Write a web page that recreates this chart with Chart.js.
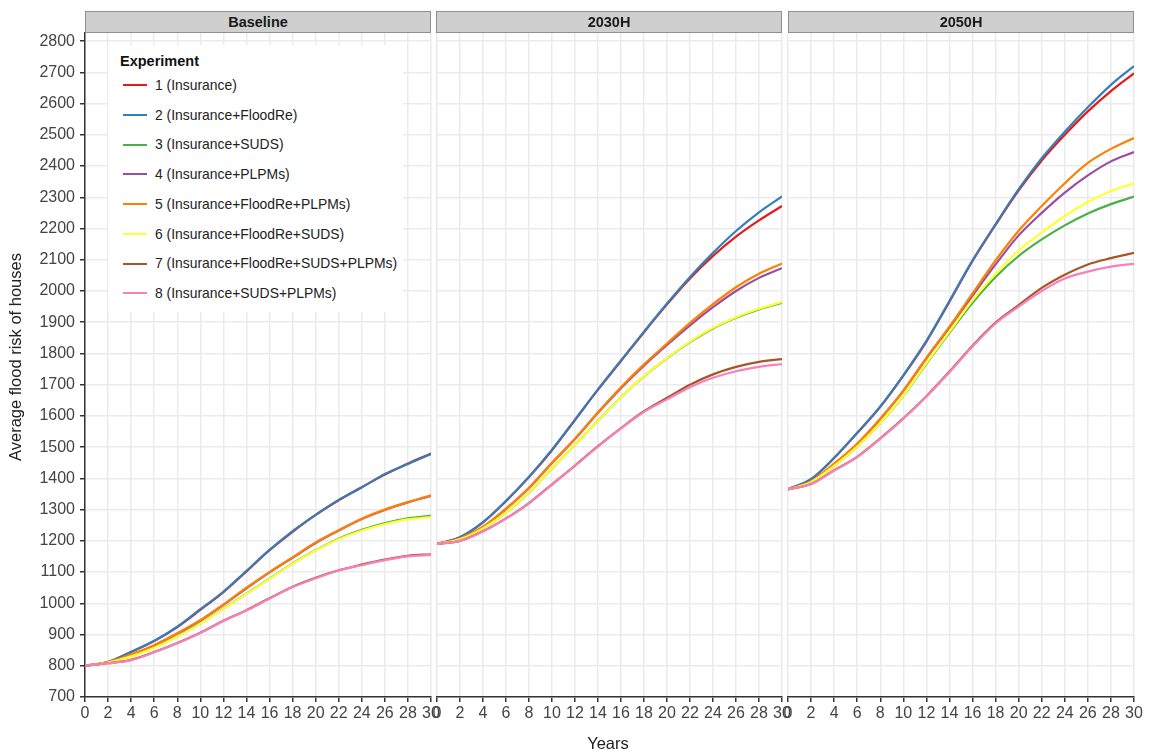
<!DOCTYPE html>
<html>
<head>
<meta charset="utf-8">
<script src="https://cdn.jsdelivr.net/npm/chart.js@4.4.0/dist/chart.umd.min.js"></script>
<style>
  html, body { margin: 0; padding: 0; background: #fff; }
  #wrap { position: relative; width: 1149px; height: 754px; overflow: hidden; background: #fff; font-family: "Liberation Sans", Arial, sans-serif; }
  canvas { position: absolute; top: 0; }
  .strip { position: absolute; top: 11px; height: 22px; background: #cfcfcf; border: 1px solid #8f8f8f; box-sizing: border-box;
           text-align: center; line-height: 20px; font-weight: bold; font-size: 14.5px; color: #1a1a1a; }
  #legend { position: absolute; left: 108px; top: 45px; width: 295px; height: 267px; background: #fff; }
  #legend .title { position: absolute; left: 12px; top: 8px; font-weight: bold; font-size: 14.5px; color: #111; }
  #legend .item { position: absolute; left: 15px; height: 20px; font-size: 13.9px; color: #222; line-height: 20px; white-space: nowrap; }
  #legend .sw { display: inline-block; width: 24px; height: 2px; vertical-align: middle; margin-right: 8px; position: relative; top: -1px; }
  #ytitle { position: absolute; left: -135px; top: 347px; width: 300px; height: 20px; line-height: 20px; text-align: center;
            transform: rotate(-90deg); font-size: 16.5px; color: #222; }
  #xtitle { position: absolute; left: 508px; top: 733px; width: 200px; height: 20px; line-height: 20px; text-align: center; font-size: 16.5px; color: #222; }
</style>
</head>
<body>
<div id="wrap">
  <canvas id="p1" width="443" height="754" style="left:0px"></canvas>
  <canvas id="p2" width="369" height="754" style="left:425px"></canvas>
  <canvas id="p3" width="370" height="754" style="left:776px"></canvas>
  <div class="strip" style="left:85px;width:346px">Baseline</div>
  <div class="strip" style="left:436px;width:346px">2030H</div>
  <div class="strip" style="left:788px;width:346px">2050H</div>
  <div id="legend"></div>
  <div id="ytitle">Average flood risk of houses</div>
  <div id="xtitle">Years</div>
</div>
<script>
// ---- data ----
const years = [0, 2, 4, 6, 8, 10, 12, 14, 16, 18, 20, 22, 24, 26, 28, 30];
const yTicks = [700, 800, 900, 1000, 1100, 1200, 1300, 1400, 1500, 1600, 1700, 1800, 1900, 2000, 2100, 2200, 2300, 2400, 2500, 2600, 2700, 2800];
const panelNames = ["Baseline", "2030H", "2050H"];
const experiments = ["1 (Insurance)", "2 (Insurance+FloodRe)", "3 (Insurance+SUDS)", "4 (Insurance+PLPMs)",
  "5 (Insurance+FloodRe+PLPMs)", "6 (Insurance+FloodRe+SUDS)", "7 (Insurance+FloodRe+SUDS+PLPMs)", "8 (Insurance+SUDS+PLPMs)"];
const colors = ["#E41A1C", "#377EB8", "#4DAF4A", "#984EA3", "#FF7F00", "#FFFF33", "#A65628", "#F781BF"];

// Baseline
const base1 = [800, 812, 844, 879, 924, 979, 1036, 1102, 1170, 1229, 1283, 1330, 1372, 1412, 1448, 1480];
const base2 = [800, 813, 845, 880, 925, 981, 1037, 1104, 1171, 1231, 1283, 1331, 1371, 1414, 1446, 1478];
const base3 = [800, 810, 831, 859, 894, 936, 983, 1031, 1079, 1128, 1170, 1207, 1235, 1257, 1272, 1280];
const base4 = [800, 811, 835, 865, 903, 945, 995, 1048, 1099, 1146, 1193, 1233, 1270, 1299, 1323, 1344];
const base5 = [800, 812, 836, 866, 904, 946, 996, 1050, 1100, 1147, 1195, 1234, 1271, 1300, 1324, 1346];
const base6 = [800, 810, 830, 858, 893, 935, 982, 1030, 1078, 1127, 1169, 1205, 1233, 1254, 1269, 1276];
const base7 = [800, 808, 819, 844, 873, 906, 944, 978, 1016, 1053, 1082, 1106, 1124, 1140, 1152, 1157];
const base8 = [800, 808, 818, 843, 872, 905, 943, 977, 1015, 1052, 1080, 1105, 1122, 1138, 1150, 1155];

// 2030H
const h30_1 = [1190, 1211, 1259, 1327, 1404, 1490, 1587, 1684, 1776, 1868, 1957, 2040, 2112, 2174, 2226, 2272];
const h30_2 = [1190, 1212, 1260, 1328, 1405, 1492, 1588, 1685, 1778, 1870, 1960, 2045, 2122, 2192, 2252, 2303];
const h30_3 = [1190, 1205, 1240, 1290, 1355, 1432, 1508, 1585, 1660, 1727, 1784, 1836, 1880, 1914, 1941, 1962];
const h30_4 = [1190, 1206, 1244, 1302, 1369, 1449, 1526, 1610, 1689, 1761, 1827, 1890, 1948, 2000, 2042, 2073];
const h30_5 = [1190, 1207, 1245, 1303, 1370, 1450, 1527, 1612, 1692, 1765, 1832, 1898, 1958, 2012, 2055, 2088];
const h30_6 = [1190, 1205, 1240, 1290, 1355, 1432, 1508, 1585, 1660, 1728, 1785, 1838, 1882, 1916, 1943, 1965];
const h30_7 = [1190, 1200, 1231, 1272, 1321, 1381, 1441, 1503, 1561, 1615, 1658, 1700, 1733, 1757, 1773, 1782];
const h30_8 = [1190, 1200, 1230, 1271, 1320, 1380, 1440, 1502, 1560, 1613, 1653, 1692, 1722, 1743, 1757, 1766];

// 2050H
const h50_1 = [1365, 1397, 1465, 1545, 1629, 1729, 1838, 1966, 2096, 2212, 2322, 2418, 2500, 2575, 2640, 2697];
const h50_2 = [1365, 1398, 1466, 1546, 1630, 1730, 1840, 1968, 2098, 2214, 2326, 2425, 2510, 2588, 2660, 2720];
const h50_3 = [1365, 1388, 1440, 1502, 1577, 1664, 1767, 1866, 1962, 2045, 2112, 2165, 2210, 2248, 2278, 2302];
const h50_4 = [1365, 1390, 1446, 1510, 1590, 1680, 1784, 1883, 1985, 2085, 2178, 2250, 2315, 2370, 2415, 2445];
const h50_5 = [1365, 1391, 1447, 1511, 1591, 1681, 1786, 1886, 1992, 2098, 2193, 2272, 2345, 2410, 2455, 2490];
const h50_6 = [1365, 1388, 1440, 1502, 1577, 1665, 1769, 1870, 1970, 2055, 2130, 2187, 2240, 2285, 2320, 2345];
const h50_7 = [1365, 1382, 1426, 1469, 1528, 1592, 1663, 1742, 1825, 1899, 1955, 2010, 2052, 2085, 2105, 2122];
const h50_8 = [1365, 1382, 1425, 1468, 1527, 1591, 1662, 1740, 1822, 1896, 1950, 2000, 2040, 2062, 2078, 2087];

const panelSeries = [
  [base1, base2, base3, base4, base5, base6, base7, base8],
  [h30_1, h30_2, h30_3, h30_4, h30_5, h30_6, h30_7, h30_8],
  [h50_1, h50_2, h50_3, h50_4, h50_5, h50_6, h50_7, h50_8]
];

// ---- legend (HTML) ----
const leg = document.getElementById('legend');
const t = document.createElement('div'); t.className = 'title'; t.textContent = 'Experiment'; leg.appendChild(t);
experiments.forEach((name, i) => {
  const it = document.createElement('div');
  it.className = 'item';
  it.style.top = (30 + i * 29.7) + 'px';
  const sw = document.createElement('span'); sw.className = 'sw'; sw.style.background = colors[i];
  it.appendChild(sw);
  it.appendChild(document.createTextNode(name));
  leg.appendChild(it);
});

// ---- charts ----
const FONT = "'Liberation Sans', Arial, sans-serif";
function makePanel(id, series, first) {
  const datasets = series.map((vals, i) => ({
    label: experiments[i],
    data: years.map((x, k) => ({ x: x, y: vals[k] })),
    borderColor: colors[i],
    backgroundColor: colors[i],
    borderWidth: 2.2,
    pointRadius: 0,
    fill: false,
    cubicInterpolationMode: 'monotone',
    order: 8 - i
  }));
  return new Chart(document.getElementById(id), {
    type: 'line',
    data: { datasets },
    options: {
      responsive: false,
      animation: false,
      devicePixelRatio: 1,
      layout: { padding: { left: first ? 0 : 12, right: 12, top: 33, bottom: 0 } },
      plugins: { legend: { display: false }, tooltip: { enabled: false }, title: { display: false } },
      scales: {
        x: {
          type: 'linear', min: 0, max: 30,
          ticks: { stepSize: 2, autoSkip: false, maxRotation: 0, minRotation: 0, color: '#444',
                   font: { family: FONT, size: 16 }, padding: 2, callback: v => String(v) },
          grid: { color: '#ebebeb', lineWidth: 1.5, tickColor: '#333', tickLength: 5, tickWidth: 1.5 },
          border: { display: true, color: '#333', width: 1.5 },
          afterFit: s => { s.height = 57; }
        },
        y: {
          type: 'linear', min: 700, max: 2826,
          afterBuildTicks: s => { s.ticks = yTicks.map(v => ({ value: v })); },
          ticks: { display: first, color: '#444', font: { family: FONT, size: 16 }, padding: 5, callback: v => String(v) },
          grid: { color: '#ebebeb', lineWidth: 1.5, drawTicks: first, tickColor: '#333', tickLength: 5, tickWidth: 1.5 },
          border: { display: first, color: '#333', width: 1.5 },
          afterFit: s => { s.width = first ? 85 : 0; }
        }
      }
    }
  });
}
makePanel('p1', panelSeries[0], true);
makePanel('p2', panelSeries[1], false);
makePanel('p3', panelSeries[2], false);
</script>
</body>
</html>
